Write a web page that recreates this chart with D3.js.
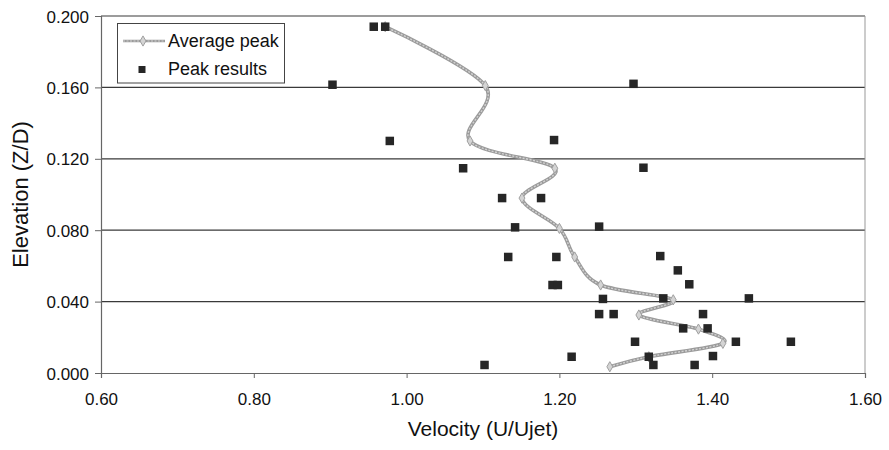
<!DOCTYPE html>
<html>
<head>
<meta charset="utf-8">
<script src="https://cdn.jsdelivr.net/npm/d3@7"></script>
<style>
    body { margin: 0; background: #fff; }
    text { font-family: "Liberation Sans", Arial, sans-serif; fill: #111; }
</style>
</head>
<body>
<div id="container"></div>
<script>
// Peak results (scatter)
const peakVelocity = [0.957, 0.972, 0.903, 1.297, 0.978, 1.193, 1.074, 1.310, 1.125, 1.176,
    1.142, 1.252, 1.133, 1.196, 1.332, 1.355, 1.191, 1.198, 1.370, 1.257, 1.336, 1.448,
    1.252, 1.271, 1.388, 1.362, 1.394, 1.299, 1.431, 1.503, 1.216, 1.317, 1.401,
    1.102, 1.323, 1.377];
const peakElevation = [0.194, 0.194, 0.1615, 0.162, 0.130, 0.1305, 0.1147, 0.115, 0.098, 0.098,
    0.0816, 0.082, 0.065, 0.065, 0.0655, 0.0575, 0.0493, 0.0493, 0.0497, 0.0415, 0.0418, 0.0418,
    0.033, 0.033, 0.033, 0.025, 0.025, 0.0175, 0.0175, 0.0175, 0.0091, 0.0091, 0.0095,
    0.0045, 0.0045, 0.0045];

// Average peak (smoothed line)
const avgVelocity = [1.266, 1.317, 1.414, 1.382, 1.304, 1.349, 1.254, 1.220, 1.200, 1.151, 1.194, 1.083, 1.103, 0.972];
const avgElevation = [0.0035, 0.0091, 0.0166, 0.0246, 0.0325, 0.041, 0.0493, 0.065, 0.081, 0.098, 0.1147, 0.130, 0.161, 0.194];

const xTicks = [0.6, 0.8, 1.0, 1.2, 1.4, 1.6];
const yTicks = [0, 0.04, 0.08, 0.12, 0.16, 0.2];

const width = 889, height = 450;
const plot = {left: 101, right: 865, top: 16, bottom: 373};

let svg = d3.select("#container").append("svg")
    .attr("width", width)
    .attr("height", height);

let x = d3.scaleLinear().domain([0.6, 1.6]).range([plot.left, plot.right]);
let y = d3.scaleLinear().domain([0, 0.2]).range([plot.bottom, plot.top]);

// horizontal gridlines
svg.append("g")
    .selectAll("line")
    .data(yTicks.filter(d => d > 0))
    .join("line")
    .attr("x1", plot.left)
    .attr("x2", plot.right)
    .attr("y1", d => y(d))
    .attr("y2", d => y(d))
    .attr("stroke", "#3a3a3a")
    .attr("stroke-width", 1.2);

// right border
svg.append("line")
    .attr("x1", plot.right).attr("x2", plot.right)
    .attr("y1", plot.top).attr("y2", plot.bottom)
    .attr("stroke", "#999");

// axes
let xAxis = svg.append("g")
    .attr("transform", `translate(0,${plot.bottom})`)
    .call(d3.axisBottom(x).tickValues(xTicks).tickFormat(d3.format(".2f")).tickSize(5).tickPadding(15));
let yAxis = svg.append("g")
    .attr("transform", `translate(${plot.left},0)`)
    .call(d3.axisLeft(y).tickValues(yTicks).tickFormat(d3.format(".3f")).tickSize(6).tickPadding(6));

[xAxis, yAxis].forEach(a => {
    a.select(".domain").attr("stroke", "#666").attr("stroke-width", 1.2);
    a.selectAll(".tick line").attr("stroke", "#666");
    a.selectAll(".tick text")
        .attr("fill", "#111")
        .style("font-size", "17px")
        .style("font-family", "'Liberation Sans', Arial, sans-serif");
});
yAxis.selectAll(".tick text").attr("dy", "0.36em");

// axis titles
svg.append("text")
    .attr("x", (plot.left + plot.right) / 2)
    .attr("y", 436)
    .attr("text-anchor", "middle")
    .style("font-size", "21px")
    .text("Velocity (U/Ujet)");

svg.append("text")
    .attr("transform", `translate(28,${(plot.top + plot.bottom) / 2}) rotate(-90)`)
    .attr("text-anchor", "middle")
    .style("font-size", "22px")
    .text("Elevation (Z/D)");

// average peak line
let avg = avgVelocity.map((v, i) => [v, avgElevation[i]]);
let line = d3.line()
    .x(d => x(d[0]))
    .y(d => y(d[1]))
    .curve(d3.curveCatmullRom.alpha(0));

svg.append("path")
    .datum(avg)
    .attr("d", line)
    .attr("fill", "none")
    .attr("stroke", "#9b9b9b")
    .attr("stroke-width", 3.6);
svg.append("path")
    .datum(avg)
    .attr("d", line)
    .attr("fill", "none")
    .attr("stroke", "#d2d2d2")
    .attr("stroke-width", 1.4)
    .attr("stroke-dasharray", "2,1.5");

let diamond = d3.symbol().type(d3.symbolDiamond).size(30);
svg.append("g")
    .selectAll("path")
    .data(avg)
    .join("path")
    .attr("transform", d => `translate(${x(d[0])},${y(d[1])})`)
    .attr("d", diamond)
    .attr("fill", "#d4d4d4")
    .attr("stroke", "#a0a0a0")
    .attr("stroke-width", 1);

// peak results
let s = 8.5;
svg.append("g")
    .selectAll("rect")
    .data(peakVelocity.map((v, i) => [v, peakElevation[i]]))
    .join("rect")
    .attr("x", d => x(d[0]) - s / 2)
    .attr("y", d => y(d[1]) - s / 2)
    .attr("width", s)
    .attr("height", s)
    .attr("fill", "#262626");

// legend
let legend = svg.append("g");
legend.append("rect")
    .attr("x", 117.5).attr("y", 23.5)
    .attr("width", 167).attr("height", 59.5)
    .attr("fill", "#fff")
    .attr("stroke", "#444")
    .attr("stroke-width", 1);
legend.append("line")
    .attr("x1", 123).attr("x2", 165).attr("y1", 41).attr("y2", 41)
    .attr("stroke", "#9b9b9b").attr("stroke-width", 2.5);
legend.append("line")
    .attr("x1", 123).attr("x2", 165).attr("y1", 41).attr("y2", 41)
    .attr("stroke", "#d2d2d2").attr("stroke-width", 1).attr("stroke-dasharray", "2,1.5");
legend.append("path")
    .attr("transform", "translate(143,41)")
    .attr("d", diamond)
    .attr("fill", "#d4d4d4")
    .attr("stroke", "#a0a0a0");
legend.append("rect")
    .attr("x", 138.5).attr("y", 66)
    .attr("width", 7).attr("height", 7)
    .attr("fill", "#262626");
legend.append("text")
    .attr("x", 168).attr("y", 47)
    .style("font-size", "18px")
    .text("Average peak");
legend.append("text")
    .attr("x", 168).attr("y", 75)
    .style("font-size", "18px")
    .text("Peak results");
</script>
</body>
</html>
